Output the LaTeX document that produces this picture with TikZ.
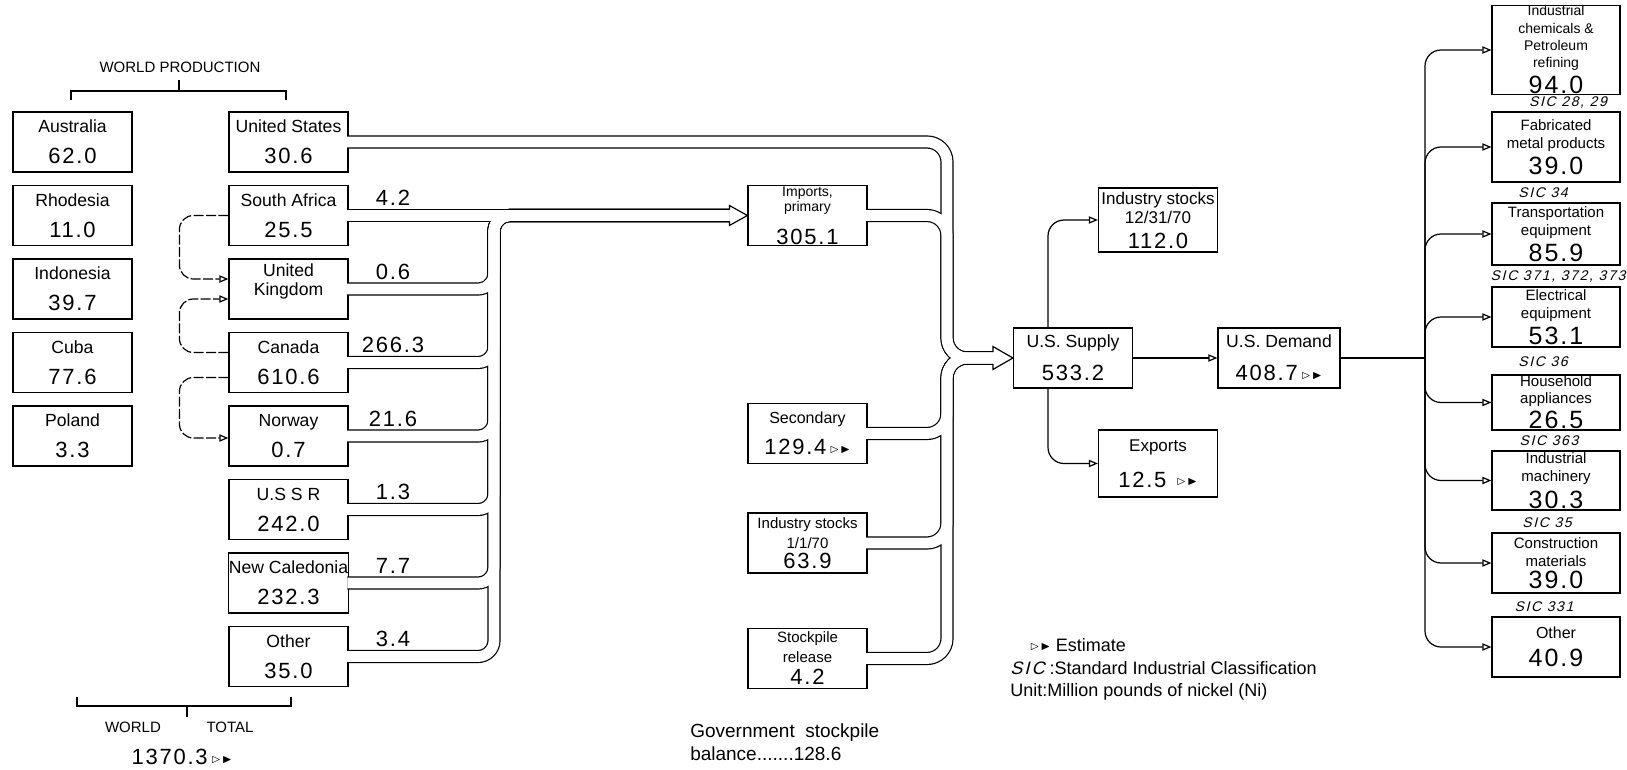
\documentclass[tikz,border=0pt]{standalone}
\usepackage{amssymb}
\usepackage{fontspec}
\setmainfont{Liberation Sans}
\newfontfamily\numfont[LetterSpace=8]{Liberation Sans}
\newfontfamily\sicfont[FakeSlant=0.25,LetterSpace=12]{Liberation Sans}
\usetikzlibrary{arrows.meta,calc}

\newcommand{\vl}[1]{{\numfont\fontsize{11}{11}\selectfont #1}}
\newcommand{\bigvl}[1]{{\numfont\fontsize{12.5}{12.5}\selectfont #1}}
\newcommand{\est}{\raisebox{.25ex}{\tiny$\rhd\mkern-5mu\blacktriangleright$}}

\tikzset{
  box/.style={draw, line width=.6pt, inner sep=0pt, align=center,
    minimum width=59.5pt, minimum height=30pt},
  rbox/.style={box, minimum width=64pt, font=\fontsize{7.5}{9}\selectfont},
  lbl/.style={anchor=south, inner sep=1pt, font=\numfont\fontsize{11}{11}\selectfont},
  sic/.style={inner sep=0pt, font=\sicfont\fontsize{7}{7}\selectfont},
  arr/.style={line width=.6pt, -{Triangle[open, length=4.5pt, width=3.6pt]}},
  dsh/.style={arr, dash pattern=on 5pt off 1.2pt, rounded corners=7pt},
  pipe/.style={line cap=butt, line join=round}
}

\begin{document}
\begin{tikzpicture}[x=.5pt, y=-.5pt, line width=.6pt,
  font=\fontsize{8.8}{15.5}\selectfont]
\useasboundingbox (0,0) rectangle (1627,770);

% world production
\node[font=\fontsize{7.5}{9}\selectfont] (wp) at (180,67) {WORLD PRODUCTION};
\draw (71,100) -- (71,91) -- (286,91) -- (286,100) (179,91) -- (179,80);

\node[box] (au) at (72.5,142) {Australia\\\vl{62.0}};
\node[box] (rh) at (72.5,215.5) {Rhodesia\\\vl{11.0}};
\node[box] (id) at (72.5,289) {Indonesia\\\vl{39.7}};
\node[box] (cu) at (72.5,362.5) {Cuba\\\vl{77.6}};
\node[box] (pl) at (72.5,436) {Poland\\\vl{3.3}};

\node[box] (us) at (288.5,142) {United States\\\vl{30.6}};
\node[box] (sa) at (288.5,215.5) {South Africa\\\vl{25.5}};
\node[box] (uk) at (288.5,289) {United\\[-6pt]Kingdom\\[-6pt]~};
\node[box] (ca) at (288.5,362.5) {Canada\\\vl{610.6}};
\node[box] (no) at (288.5,436) {Norway\\\vl{0.7}};
\node[box] (su) at (288.5,509.5) {U.S S R\\\vl{242.0}};
\node[box] (nc) at (288.5,583) {New Caledonia\\\vl{232.3}};
\node[box] (ot) at (288.5,656.5) {Other\\\vl{35.0}};

\node[lbl] (lsa) at (393,208.5) {4.2};
\node[lbl] (luk) at (393,282) {0.6};
\node[lbl] (lca) at (393,355.5) {266.3};
\node[lbl] (lno) at (393,429) {21.6};
\node[lbl] (lsu) at (393,502.5) {1.3};
\node[lbl] (lnc) at (393,576) {7.7};
\node[lbl] (lot) at (393,649.5) {3.4};

\draw (77,697) -- (77,706) -- (291,706) -- (291,697) (187,706) -- (187,717);
\node[font=\fontsize{7.5}{9}\selectfont] (wt1) at (133,727) {WORLD};
\node[font=\fontsize{7.5}{9}\selectfont] (wt2) at (230,727) {TOTAL};
\node (wt3) at (182,757) {\vl{1370.3}\,\est};

% sources of supply
\node[box, font=\fontsize{7}{7.5}\selectfont] (imp) at (807.5,215.5) {Imports,\\primary\\[6.5pt]\vl{305.1}};
\node[box, font=\fontsize{8}{15.5}\selectfont] (sec) at (807.5,433.5) {Secondary\\\vl{129.4}\,\est};
\node[box, font=\fontsize{7.5}{10}\selectfont] (is1) at (807.5,543) {Industry stocks\\1/1/70\\\vl{63.9}};
\node[box, font=\fontsize{7.5}{10}\selectfont] (stk) at (807.5,658.5) {Stockpile\\release\\[1pt]\vl{4.2}};
\node[anchor=north west, align=left, font=\fontsize{9.5}{11.5}\selectfont] (gov) at (683,716) {Government\ \ stockpile\\balance.......128.6};

\node[box] (sup) at (1073,358) {U.S. Supply\\[1pt]\vl{533.2}};
\node[box, minimum width=61pt] (dem) at (1279,358) {U.S. Demand\\[1pt]\vl{408.7}\,\est};
\node[box, minimum height=32pt, font=\fontsize{8.5}{9.5}\selectfont] (is2) at (1158,220) {Industry stocks\\12/31/70\\[3pt]\vl{112.0}};
\node[box, minimum height=33.5pt, font=\fontsize{8.5}{18}\selectfont] (exp) at (1158,463.5) {Exports\\\vl{12.5}\ \ \est};

% end uses
\node[rbox, minimum height=43pt, font=\fontsize{7}{8.6}\selectfont] (r1) at (1556,50) {Industrial\\chemicals \&\\Petroleum\\refining\\[2pt]\bigvl{94.0}};
\node[rbox, minimum height=35pt] (r2) at (1556,147) {Fabricated\\metal products\\[2pt]\bigvl{39.0}};
\node[rbox, minimum height=31pt] (r3) at (1556,234) {Transportation\\equipment\\[2pt]\bigvl{85.9}};
\node[rbox] (r4) at (1556,317) {Electrical\\equipment\\[2pt]\bigvl{53.1}};
\node[rbox, minimum height=27.5pt, font=\fontsize{7.5}{8.3}\selectfont] (r5) at (1556,402.5) {Household\\appliances\\[1.5pt]\bigvl{26.5}};
\node[rbox, minimum height=29.5pt] (r6) at (1556,480.5) {Industrial\\machinery\\[2pt]\bigvl{30.3}};
\node[rbox] (r7) at (1556,563) {Construction\\materials\\[2pt]\bigvl{39.0}};
\node[rbox, font=\fontsize{8}{14}\selectfont] (r8) at (1556,647) {Other\\\bigvl{40.9}};

\node[sic] (c1) at (1568,103) {SIC 28, 29};
\node[sic] (c2) at (1543,193) {SIC 34};
\node[sic] (c3) at (1558,277) {SIC 371, 372, 373};
\node[sic] (c4) at (1543,362) {SIC 36};
\node[sic] (c5) at (1549,441) {SIC 363};
\node[sic] (c6) at (1547,523) {SIC 35};
\node[sic] (c7) at (1544,607) {SIC 331};

\node[anchor=west, font=\fontsize{9}{11}\selectfont] (k1) at (1022,645) {\est\ Estimate};
\node[anchor=west, font=\fontsize{9}{11}\selectfont] (k2) at (1003,668) {{\sicfont SIC} :Standard Industrial Classification};
\node[anchor=west, font=\fontsize{9}{11}\selectfont] (k3) at (1003,692) {Unit:Million pounds of nickel (Ni)};

% pipes: dark walls first, white core after
\coordinate (ia) at ($(imp.west)+(-18,0)$);
\coordinate (sa2) at ($(sup.west)+(-20,0)$);
\foreach \pw/\pc in {6.6pt/black, 5.4pt/white}{
  \draw[pipe, line width=\pw, color=\pc] ([xshift=-.7pt]sa.east) -- (ia);
  \foreach \pp in {uk,ca,no,su,nc,ot}
    \draw[pipe, line width=\pw, color=\pc, rounded corners=8pt] ([xshift=-.7pt]\pp.east) -| (494,215.5) -- (ia);
  \foreach \pp in {us,imp,sec,is1,stk}
    \draw[pipe, line width=\pw, color=\pc, rounded corners=10pt] ([xshift=-.7pt]\pp.east) -| (947,358) -- (sa2);
}
\draw ($(ia)+(0,-6)$) -- ($(ia)+(0,-10)$) -- (imp.west) -- ($(ia)+(0,10)$) -- ($(ia)+(0,6)$);
\draw ($(sa2)+(0,-6)$) -- ($(sa2)+(0,-11.5)$) -- (sup.west) -- ($(sa2)+(0,11.5)$) -- ($(sa2)+(0,6)$);

\draw[dsh] (sa.west) -- ++(-49,0) |- ($(uk.west)+(0,-10)$);
\draw[dsh] ($(ca.west)+(0,-10)$) -- ++(-49,0) |- ($(uk.west)+(0,10)$);
\draw[dsh] ($(ca.west)+(0,15)$) -- ++(-49,0) |- ($(no.west)+(0,2)$);

\draw[arr] (sup.east) -- (dem.west);
\draw[arr, rounded corners=8pt] ($(sup.north)+(-25,0)$) |- (is2.west);
\draw[arr, rounded corners=8pt] ($(sup.south)+(-25,0)$) |- (exp.west);
\coordinate (tr) at (1425,358);
\draw (dem.east) -- (tr);
\foreach \bb in {r1,r2,r3,r4,r5,r6,r7,r8}
  \draw[arr, rounded corners=8pt] (tr) |- (\bb.west);
\end{tikzpicture}
\end{document}
